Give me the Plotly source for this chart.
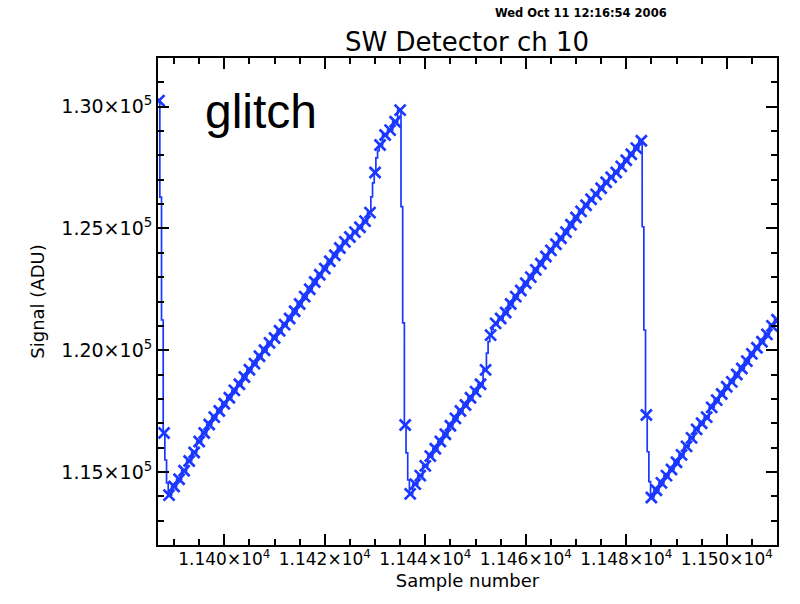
import plotly.graph_objects as go

# ---- data ----
first_sample = 11387
signal = [
    130250, 116600, 114050, 114400, 114700, 115050, 115450, 115800, 116250, 116600,
    116950, 117250, 117500, 117800, 118050, 118350, 118600, 118900, 119200, 119450,
    119750, 120000, 120300, 120500, 120800, 121050, 121300, 121600, 121900, 122200,
    122500, 122800, 123100, 123350, 123650, 123900, 124200, 124450, 124650, 124850,
    125050, 125300, 125650, 127300, 128430, 128840, 129040, 129380, 129860, 116930,
    114100, 114500, 114850, 115250, 115650, 115950, 116250, 116550, 116900, 117200,
    117500, 117750, 118050, 118300, 118600, 119190, 120620, 121100, 121300, 121550,
    121900, 122200, 122450, 122750, 123000, 123300, 123550, 123850, 124100, 124350,
    124600, 124850, 125150, 125450, 125700, 125950, 126200, 126400, 126650, 126900,
    127100, 127300, 127550, 127800, 128050, 128300, 128600, 117340, 113950, 114250,
    114550, 114850, 115100, 115400, 115700, 116050, 116400, 116750, 117000, 117250,
    117650, 117950, 118200, 118500, 118700, 119000, 119250, 119550, 119850, 120100,
    120350, 120650, 121000, 121250,
]
samples = list(range(first_sample, first_sample + len(signal)))

# intermediate readouts drawn by the line only (no marker)
sub_samples = [11387.33, 11387.67, 11388.33, 11388.67,
               11429.33, 11429.67, 11430.33, 11430.67,
               11435.33, 11435.67, 11436.33, 11436.67,
               11452.33, 11452.67, 11453.33, 11453.67,
               11483.33, 11483.67, 11484.33, 11484.67]
sub_signal = [126290, 121240, 115490, 114550,
              126300, 126870, 127900, 128200,
              125900, 121120, 115780, 114670,
              119880, 120350, 120850, 121000,
              125070, 120830, 115830, 114600]

x_tickvals = [11400, 11420, 11440, 11460, 11480, 11500]
x_ticktext = ["1.140×10<sup>4</sup>", "1.142×10<sup>4</sup>", "1.144×10<sup>4</sup>",
              "1.146×10<sup>4</sup>", "1.148×10<sup>4</sup>", "1.150×10<sup>4</sup>"]
y_tickvals = [115000, 120000, 125000, 130000]
y_ticktext = ["1.15×10<sup>5</sup>", "1.20×10<sup>5</sup>", "1.25×10<sup>5</sup>",
              "1.30×10<sup>5</sup>"]

title_text = "SW Detector ch 10"
date_text = "Wed Oct 11 12:16:54 2006"
x_title = "Sample number"
y_title = "Signal (ADU)"
note_text = "glitch"

# ---- figure ----
blue = "#1a38ff"
line_pts = sorted(zip(samples + sub_samples, signal + sub_signal))
lx = [p[0] for p in line_pts]
ly = [p[1] for p in line_pts]

fig = go.Figure()
fig.add_trace(go.Scatter(x=lx, y=ly, mode="lines", line=dict(color=blue, width=1.7, shape="hvh"),
                         hoverinfo="skip", showlegend=False))
fig.add_trace(go.Scatter(x=samples, y=signal, mode="markers",
                         marker=dict(symbol="x-thin", size=11, line=dict(color=blue, width=2.7), color=blue),
                         showlegend=False))

W, H = 800, 604
ml, mr, mt, mb = 158, 23, 58, 59
pw, ph = W - ml - mr, H - mt - mb

def px(xp):
    return (xp - ml) / pw

def py(yp):
    return (H - mb - yp) / ph

axis_common = dict(showline=True, linecolor="black", linewidth=2, mirror="ticks",
                   ticks="inside", ticklen=11, tickwidth=1.5, tickcolor="black",
                   showgrid=False, zeroline=False, tickangle=0, automargin=False)

fig.update_layout(
    width=W, height=H, autosize=False,
    margin=dict(l=ml, r=mr, t=mt, b=mb),
    plot_bgcolor="white", paper_bgcolor="white",
    xaxis=dict(range=[11386.8, 11510], tickmode="array", tickvals=x_tickvals, ticktext=x_ticktext,
               tickfont=dict(family="DejaVu Sans", size=17, color="black"),
               ticklabelstandoff=-2,
               minor=dict(dtick=5, tick0=11400, ticks="inside", ticklen=6, tickwidth=1.5,
                          tickcolor="black", showgrid=False),
               title=dict(text=x_title, font=dict(family="DejaVu Sans", size=18, color="black"),
                          standoff=6),
               **axis_common),
    yaxis=dict(range=[112000, 132000], tickmode="array", tickvals=y_tickvals, ticktext=y_ticktext,
               tickfont=dict(family="DejaVu Sans", size=19, color="black"),
               minor=dict(dtick=1000, tick0=112000, ticks="inside", ticklen=6, tickwidth=1.5,
                          tickcolor="black", showgrid=False),
               title=dict(text=y_title, font=dict(family="DejaVu Sans", size=18, color="black"),
                          standoff=12),
               **axis_common),
    annotations=[
        dict(text=title_text, xref="paper", yref="paper", x=px(467), y=py(42),
             xanchor="center", yanchor="middle", showarrow=False,
             font=dict(family="DejaVu Sans", size=26, color="black")),
        dict(text="<b>" + date_text + "</b>", xref="paper", yref="paper", x=px(581), y=py(13),
             xanchor="center", yanchor="middle", showarrow=False,
             font=dict(family="DejaVu Sans", size=11.5, color="black")),
        dict(text=note_text, xref="paper", yref="paper", x=px(203), y=py(111),
             xanchor="left", yanchor="middle", showarrow=False,
             font=dict(family="Liberation Sans", size=48, color="black")),
    ],
)

fig.write_html("out.html")
